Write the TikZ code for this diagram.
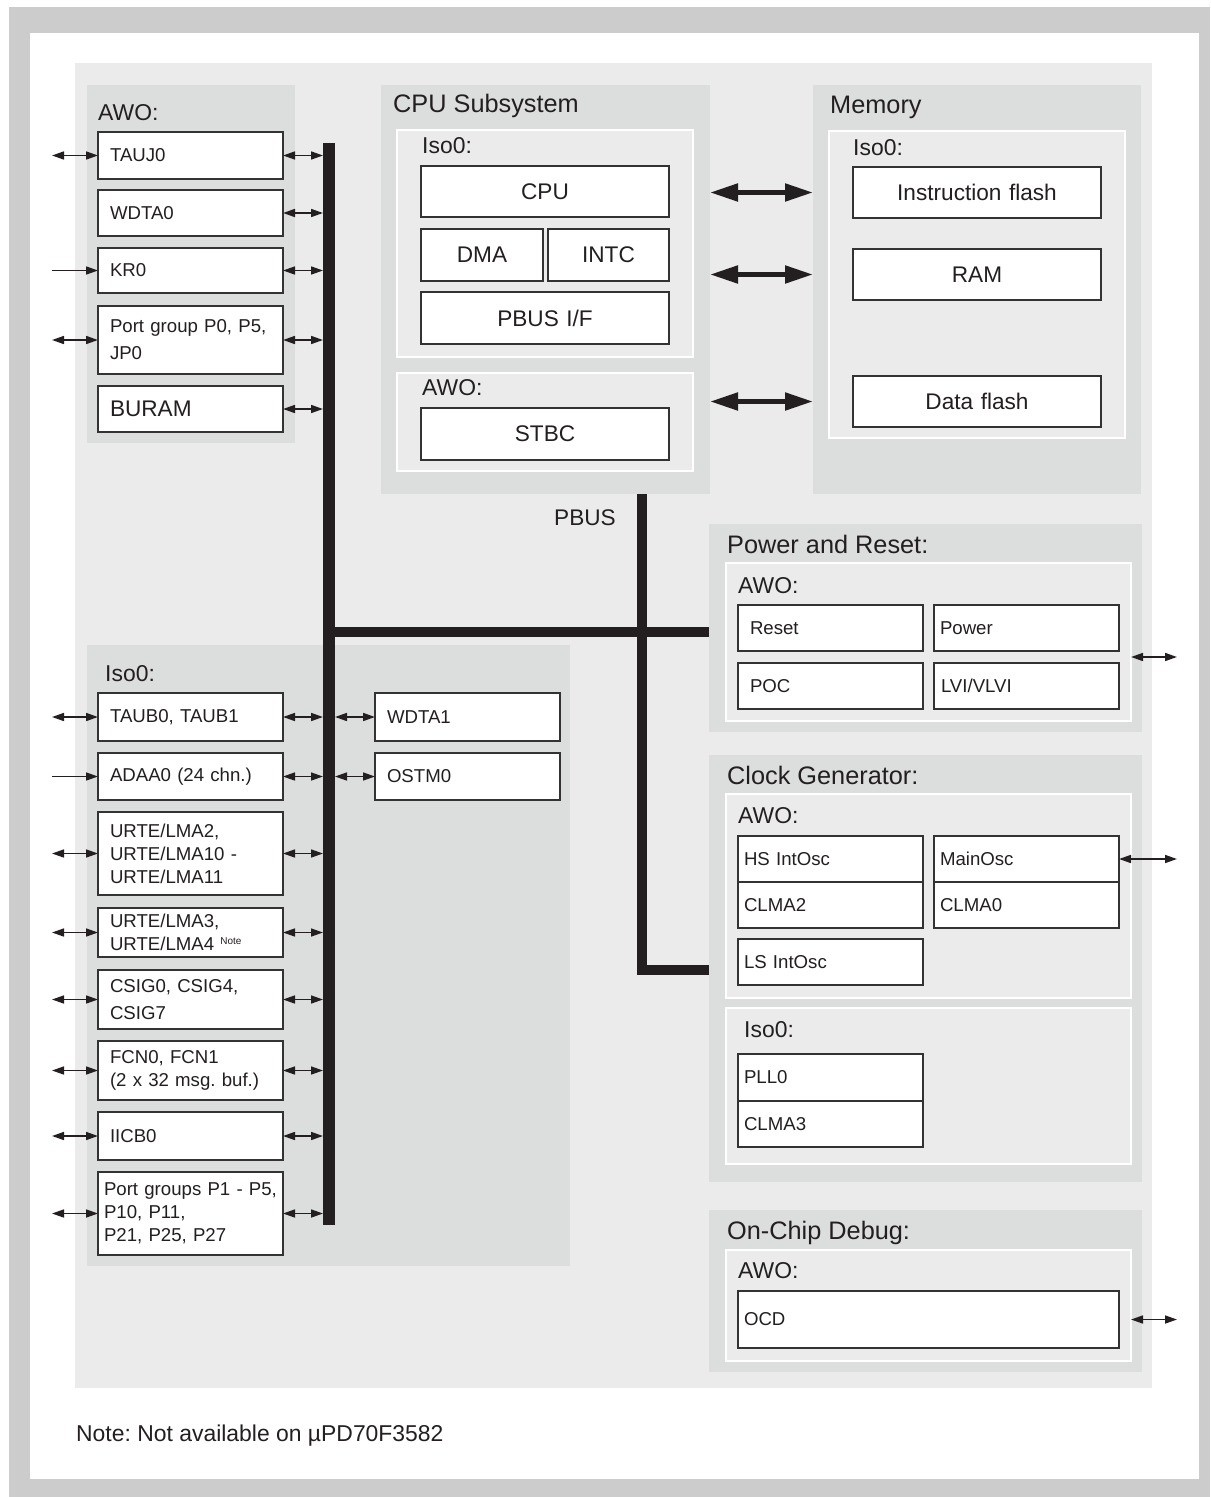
\documentclass[tikz,border=0pt]{standalone}
\usepackage{fontspec}
\setmainfont{Liberation Sans}
\usetikzlibrary{arrows.meta}
\frenchspacing
\definecolor{framec}{HTML}{CCCCCC}
\definecolor{lightbg}{HTML}{EBEBEC}
\definecolor{panelc}{HTML}{DCDDDD}
\definecolor{ink}{HTML}{231F20}
\definecolor{edgec}{HTML}{333333}
\newcommand{\fsmall}{\fontsize{18.7}{23}\selectfont}
\newcommand{\fbig}{\fontsize{22.7}{27}\selectfont}
\newcommand{\ftitle}{\fontsize{25.4}{30}\selectfont}
\newcommand{\fsub}{\fontsize{23}{28}\selectfont}
\newcommand{\fnote}{\fontsize{23}{28}\selectfont}
% \blk[inset]{style}{name}{x1}{y1}{x2}{y2}{text}
\newcommand{\blk}[8][12]{%
  \pgfmathsetmacro{\myw}{#6-#4}%
  \pgfmathsetmacro{\myh}{#7-#5}%
  \pgfmathsetmacro{\mytw}{#6-#4-2*#1}%
  \node[#2, inner xsep=#1 bp, minimum width=\myw bp, minimum height=\myh bp, text width=\mytw bp] (#3) at ({(#4+#6)/2},{(#5+#7)/2}) {#8};}
% \pan{style}{name}{x1}{y1}{x2}{y2}
\newcommand{\pan}[6]{%
  \pgfmathsetmacro{\myw}{#5-#3}%
  \pgfmathsetmacro{\myh}{#6-#4}%
  \node[#1, minimum width=\myw bp, minimum height=\myh bp] (#2) at ({(#3+#5)/2},{(#4+#6)/2}) {};}
\begin{document}
\begin{tikzpicture}[x=1bp,y=-1bp,
  every node/.append style={text=ink},
  panel/.style={fill=panelc, draw=none, inner sep=0pt, outer sep=0pt},
  insetbox/.style={fill=lightbg, draw=white, line width=2.5bp, inner sep=0pt, outer sep=0pt},
  box/.style={fill=white, draw=edgec, line width=1.3bp, font=\fsmall, align=left, inner ysep=0pt, outer sep=0pt},
  bigbox/.style={box, font=\fbig, align=center},
  title/.style={anchor=base west, inner sep=0pt, font=\ftitle},
  sub/.style={anchor=base west, inner sep=0pt, font=\fsub},
  notetext/.style={anchor=base west, inner sep=0pt, font=\fnote},
  dbl/.style={{Triangle[length=12bp,width=8bp]}-{Triangle[length=12bp,width=8bp]}, line width=1.6bp, draw=ink},
  sgl/.style={-{Triangle[length=12bp,width=8bp]}, line width=1.6bp, draw=ink},
  big/.style={{Triangle[length=28bp,width=17bp]}-{Triangle[length=28bp,width=17bp]}, line width=5bp, draw=ink},
  busline/.style={draw=ink, line join=miter}]
\useasboundingbox (0,0) rectangle (1210,1497);
\fill[white] (0,0) rectangle (1210,1497);
\fill[framec] (9,7) rectangle (1210,1497);
\fill[white] (30,33) rectangle (1199,1479);
\fill[lightbg] (75,63) rectangle (1152,1388);

% panels
\pan{panel}{awoL}{87}{85}{295}{443}
\pan{panel}{cpuss}{381}{85}{710}{494}
\pan{insetbox}{cpuiso}{397}{130}{693}{357}
\pan{insetbox}{cpuawo}{397}{373}{693}{471}
\pan{panel}{memp}{813}{85}{1141}{494}
\pan{insetbox}{memiso}{829}{131}{1125}{438}
\pan{panel}{isoL}{87}{645}{570}{1266}
\pan{panel}{pwr}{709}{524}{1142}{732}
\pan{insetbox}{pwrawo}{726}{563}{1131}{721}
\pan{panel}{clk}{709}{755}{1142}{1182}
\pan{insetbox}{clkawo}{726}{794}{1131}{998}
\pan{insetbox}{clkiso}{726}{1008}{1131}{1164}
\pan{panel}{ocdp}{709}{1210}{1142}{1372}
\pan{insetbox}{ocdawo}{726}{1250}{1131}{1361}

% titles
\node[sub] (tAWOL) at (98,121) {AWO:};
\node[title] (tCPU) at (393,113) {CPU Subsystem};
\node[sub] (tCPUiso) at (422,154) {Iso0:};
\node[sub] (tCPUawo) at (422,395) {AWO:};
\node[title] (tMem) at (830,114) {Memory};
\node[sub] (tMemiso) at (853,156) {Iso0:};
\node[anchor=base west, inner sep=0pt, font=\fbig] (tPBUS) at (554,525) {PBUS};
\node[title] (tPwr) at (727,553) {Power and Reset:};
\node[sub] (tPwrawo) at (738,593) {AWO:};
\node[title] (tClk) at (727,784) {Clock Generator:};
\node[sub] (tClkawo) at (738,823) {AWO:};
\node[sub] (tClkiso) at (744,1037) {Iso0:};
\node[title] (tOcd) at (727,1239) {On-Chip Debug:};
\node[sub] (tOcdawo) at (738,1278) {AWO:};
\node[sub] (tIsoL) at (105,681) {Iso0:};
\node[notetext] (tNote) at (76,1441) {Note: Not available on µPD70F3582};

% left AWO boxes
\blk{box}{tauj0}{98}{132}{283}{179}{TAUJ0}
\blk{box}{wdta0}{98}{190}{283}{236}{WDTA0}
\blk{box}{kr0}{98}{248}{283}{293}{KR0}
\blk{box}{pg0}{98}{306}{283}{374}{Port~group~P0,~P5,\\[4pt]JP0}
\blk{box, font=\fbig}{buram}{98}{386}{283}{432}{BURAM}

% CPU subsystem
\blk[4]{bigbox}{cpu}{421}{166}{669}{217}{CPU}
\blk[4]{bigbox}{dma}{421}{229}{543}{281}{DMA}
\blk[4]{bigbox}{intc}{548}{229}{669}{281}{INTC}
\blk[4]{bigbox}{pbusif}{421}{292}{669}{344}{PBUS I/F}
\blk[4]{bigbox}{stbc}{421}{408}{669}{460}{STBC}

% Memory
\blk[4]{bigbox}{iflash}{853}{167}{1101}{218}{Instruction flash}
\blk[4]{bigbox}{ram}{853}{249}{1101}{300}{RAM}
\blk[4]{bigbox}{dflash}{853}{376}{1101}{427}{Data flash}

% left Iso0 boxes
\blk{box}{taub}{98}{693}{283}{741}{TAUB0, TAUB1}
\blk{box}{adaa}{98}{753}{283}{800}{ADAA0 (24 chn.)}
\blk{box}{urte2}{98}{812}{283}{895}{URTE/LMA2,\\URTE/LMA10 -\\URTE/LMA11}
\blk{box}{urte3}{98}{908}{283}{957}{URTE/LMA3,\\URTE/LMA4 \raisebox{6pt}{\fontsize{10}{10}\selectfont Note}}
\blk{box}{csig}{98}{970}{283}{1029}{CSIG0, CSIG4,\\[4pt]CSIG7}
\blk{box}{fcn}{98}{1041}{283}{1100}{FCN0, FCN1\\(2~x~32~msg.~buf.)}
\blk{box}{iicb}{98}{1112}{283}{1160}{IICB0}
\blk[6]{box}{pgs}{98}{1172}{283}{1255}{Port~groups~P1~-~P5,\\P10, P11,\\P21, P25, P27}
\blk{box}{wdta1}{375}{693}{560}{741}{WDTA1}
\blk{box}{ostm0}{375}{753}{560}{800}{OSTM0}

% Power and reset
\blk{box}{reset}{738}{605}{923}{651}{Reset}
\blk[6]{box}{power}{934}{605}{1119}{651}{Power}
\blk{box}{poc}{738}{663}{923}{709}{POC}
\blk[7]{box}{lvi}{934}{663}{1119}{709}{LVI/VLVI}

% Clock generator
\blk[6]{box}{hsosc}{738}{836}{923}{882}{HS IntOsc}
\blk[6]{box}{clma2}{738}{882}{923}{928}{CLMA2}
\blk[6]{box}{mainosc}{934}{836}{1119}{882}{MainOsc}
\blk[6]{box}{clma0}{934}{882}{1119}{928}{CLMA0}
\blk[6]{box}{lsosc}{738}{939}{923}{985}{LS IntOsc}
\blk[6]{box}{pll0}{738}{1054}{923}{1101}{PLL0}
\blk[6]{box}{clma3}{738}{1101}{923}{1147}{CLMA3}

% OCD
\blk[6]{box}{ocd}{738}{1291}{1119}{1348}{OCD}

% buses
\coordinate (busTop) at (329,143);
\coordinate (busBot) at (329,1225);
\coordinate (busL) at (323,143);
\coordinate (busR) at (335,143);
\draw[busline, line width=12bp] (busTop) -- (busBot);
\draw[busline, line width=10bp] (329,632) -- (pwr.west |- 0,632);
\draw[busline, line width=10bp] (cpuss.south -| 642,0) -- (642,969.5) -- (clk.west |- 0,969.5);

% left external arrows
\coordinate (extL) at (52,0);
\foreach \b in {tauj0,pg0,taub,urte2,urte3,csig,fcn,iicb,pgs}
  \draw[dbl] (\b.west -| extL) -- (\b.west);
\foreach \b in {kr0,adaa}
  \draw[sgl] (\b.west -| extL) -- (\b.west);
% box to bus arrows
\foreach \b in {tauj0,wdta0,kr0,pg0,buram,taub,adaa,urte2,urte3,csig,fcn,iicb,pgs}
  \draw[dbl] (\b.east) -- (\b.east -| busL);
\foreach \b in {wdta1,ostm0}
  \draw[dbl] (\b.west -| busR) -- (\b.west);

% CPU <-> memory
\foreach \b in {iflash,ram,dflash}
  \draw[big] (cpuss.east |- \b) -- (memp.west |- \b);

% right external arrows
\coordinate (extR) at (1177,0);
\coordinate (pwrio) at (1177,657);
\draw[dbl] (pwrawo.east |- pwrio) -- (pwrio);
\draw[dbl] (mainosc.east) -- (mainosc.east -| extR);
\draw[dbl] (ocdawo.east |- ocd) -- (ocd -| extR);
\end{tikzpicture}
\end{document}
